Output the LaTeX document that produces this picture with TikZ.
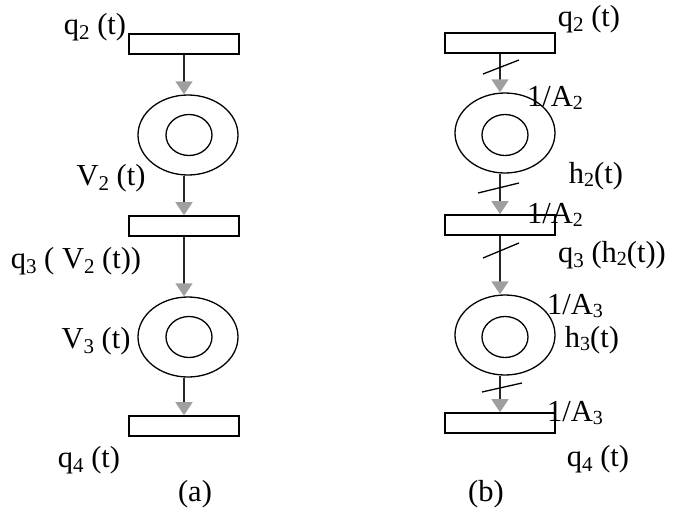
\documentclass[tikz,border=0pt]{standalone}
\usepackage{fontspec}
\setmainfont{Liberation Serif}
\usetikzlibrary{shapes.geometric,arrows.meta}
\newcommand{\lowsub}[1]{\raisebox{-0.4ex}{\fontsize{21}{21}\selectfont #1}}
\newcommand{\smallsub}[1]{\raisebox{-0.25ex}{\fontsize{20}{20}\selectfont #1}}
\begin{document}
\begin{tikzpicture}[x=1pt,y=-1pt,
  box/.style={draw, line width=1.6pt, minimum width=110pt, minimum height=20pt, inner sep=0pt},
  outer/.style={draw, ellipse, line width=1.3pt, minimum width=100pt, minimum height=80pt, inner sep=0pt},
  inner/.style={draw, ellipse, line width=1.3pt, minimum width=46pt, minimum height=41pt, inner sep=0pt},
  flow/.style={line width=1.3pt, draw=black!85, -{Triangle[length=13pt,width=17pt,color=gray!75,fill=gray!75]}},
  tick/.style={line width=1.3pt},
  lbl/.style={font=\fontsize{30.5}{31}\selectfont, inner sep=0pt}]
\useasboundingbox (0,0) rectangle (673,515);
% ---- (a)
\node[box] (ra1) at (184,44) {};
\node[outer] (ea1) at (188,135) {};
\node[inner] (ia1) at (189,135) {};
\node[box] (ra2) at (184,226) {};
\node[outer] (ea2) at (188,337) {};
\node[inner] (ia2) at (189,337) {};
\node[box] (ra3) at (184,426) {};
\draw[flow] (ra1.south) -- (ra1.south |- ea1.north);
\draw[flow] (ra1.south |- ea1.south) -- (ra2.north);
\draw[flow] (ra2.south) -- (ra2.south |- ea2.north);
\draw[flow] (ra2.south |- ea2.south) -- (ra3.north);
\node[lbl] (la1) at (95,27) {q\lowsub{2} (t)};
\node[lbl] (la2) at (111,178) {V\lowsub{2} (t)};
\node[lbl] (la3) at (76,261) {q\lowsub{3} ( V\lowsub{2} (t))};
\node[lbl] (la4) at (96,341) {V\lowsub{3} (t)};
\node[lbl] (la5) at (89,460) {q\lowsub{4} (t)};
\node[lbl] (la6) at (195,494) {(a)};
% ---- (b)
\node[box] (rb1) at (500,43) {};
\node[outer] (eb1) at (505,133) {};
\node[inner] (ib1) at (505,135) {};
\node[box] (rb2) at (500,225) {};
\node[outer] (eb2) at (505,335) {};
\node[inner] (ib2) at (505,337) {};
\node[box] (rb3) at (500,423) {};
\draw[flow] (rb1.south) -- (rb1.south |- eb1.north);
\draw[flow] (rb1.south |- eb1.south) -- (rb2.north);
\draw[flow] (rb2.south) -- (rb2.south |- eb2.north);
\draw[flow] (rb2.south |- eb2.south) -- (rb3.north);
\draw[tick] (483,74) -- (519,60);
\draw[tick] (478,193) -- (519,183);
\draw[tick] (483,258) -- (519,243);
\draw[tick] (482,392) -- (522,383);
\node[lbl] (lb1) at (589,19) {q\lowsub{2} (t)};
\node[lbl] (lb2) at (555,98) {1/A\smallsub{2}};
\node[lbl] (lb3) at (596,176) {h\smallsub{2}(t)};
\node[lbl] (lb4) at (555,215) {1/A\smallsub{2}};
\node[lbl] (lb5) at (612,255) {q\lowsub{3} (h\smallsub{2}(t))};
\node[lbl] (lb6) at (575,306) {1/A\smallsub{3}};
\node[lbl] (lb7) at (592,340) {h\smallsub{3}(t)};
\node[lbl] (lb8) at (575,413) {1/A\smallsub{3}};
\node[lbl] (lb9) at (598,459) {q\lowsub{4} (t)};
\node[lbl] (lb10) at (486,494) {(b)};
\end{tikzpicture}
\end{document}
